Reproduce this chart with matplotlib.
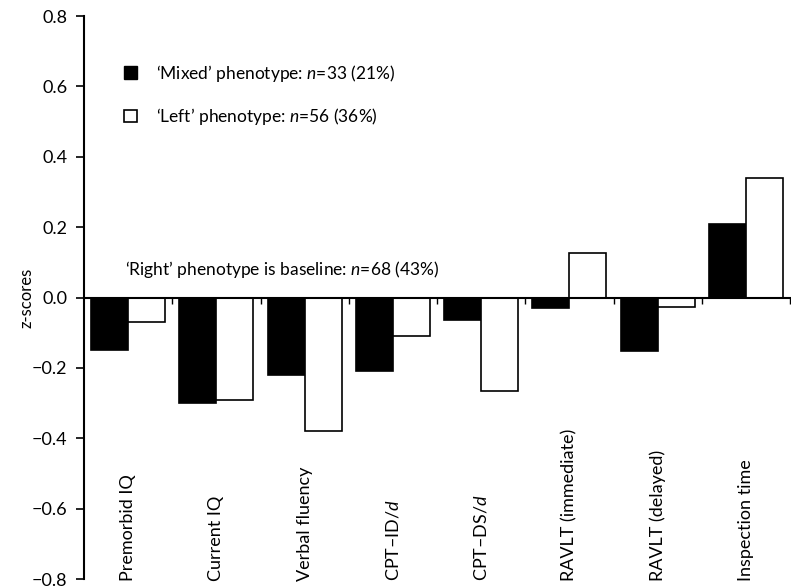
import numpy as np
import matplotlib.pyplot as plt
from matplotlib.patches import Patch

plt.rcParams['font.family'] = ['Lato', 'DejaVu Sans']
plt.rcParams['mathtext.fontset'] = 'custom'
plt.rcParams['mathtext.rm'] = 'Lato'
plt.rcParams['mathtext.it'] = 'Lato:italic'

# data
tests = ['Premorbid IQ', 'Current IQ', 'Verbal fluency', r'CPT–ID/$\it{d}$',
         r'CPT–DS/$\it{d}$', 'RAVLT (immediate)', 'RAVLT (delayed)', 'Inspection time']
mixed = [-0.15, -0.30, -0.22, -0.21, -0.065, -0.03, -0.152, 0.209]
left = [-0.07, -0.29, -0.38, -0.11, -0.265, 0.126, -0.027, 0.34]
mixed_label = r"‘Mixed’ phenotype: $\it{n}$=33 (21%)"
left_label = r"‘Left’ phenotype: $\it{n}$=56 (36%)"
baseline_note = r"‘Right’ phenotype is baseline: $\it{n}$=68 (43%)"

fig = plt.figure(figsize=(7.91, 5.88), dpi=100)
ax = fig.add_axes([84 / 791, 9 / 588, 706 / 791, 563 / 588])

x = np.arange(len(tests)) + 0.5
w = 0.42
ax.bar(x - w / 2, mixed, w, color='black', edgecolor='black', linewidth=1.2)
ax.bar(x + w / 2, left, w, color='white', edgecolor='black', linewidth=1.2)

ax.set_xlim(0, len(tests))
ax.set_ylim(-0.8, 0.8)
ax.set_yticks(np.arange(-0.8, 0.81, 0.2))
ax.set_yticklabels(['−0.8', '−0.6', '−0.4', '−0.2', '0.0', '0.2', '0.4', '0.6', '0.8'])
ax.set_xticks(np.arange(1, len(tests) + 1))
ax.set_xticklabels([])
ax.tick_params(axis='y', direction='out', length=6, width=1.2, labelsize=13, pad=6)
ax.tick_params(axis='x', direction='out', length=4, width=1.0)

for s in ['top', 'right']:
    ax.spines[s].set_visible(False)
ax.spines['left'].set_linewidth(1.5)
ax.spines['bottom'].set_position(('data', 0))
ax.spines['bottom'].set_linewidth(1.5)

for xi, t in zip(x, tests):
    ax.text(xi, -0.805, t, rotation=90, ha='center', va='bottom', fontsize=13)

ax.set_ylabel('z-scores', fontsize=12)
ax.yaxis.set_label_coords(-0.07, 0.5)

ax.text(0.465, 0.08, baseline_note, fontsize=12.5, va='center')

handles = [Patch(facecolor='black', edgecolor='black'),
           Patch(facecolor='white', edgecolor='black', linewidth=1.2)]
ax.legend(handles, [mixed_label, left_label], loc='upper left',
          bbox_to_anchor=(0.035, 0.945), frameon=False, fontsize=12.5,
          handlelength=0.75, handleheight=0.75, handletextpad=1.1, labelspacing=1.3)

fig.savefig('out.png', dpi=100)
